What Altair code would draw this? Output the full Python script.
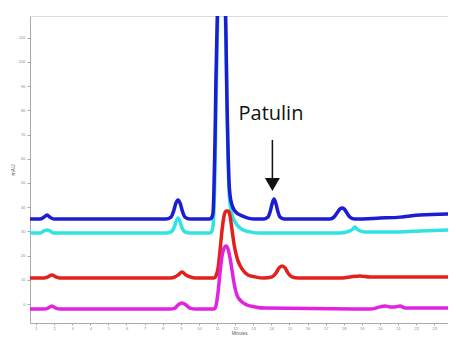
import altair as alt
import pandas as pd

# Retention time (minutes) and detector signal (mAU)
blue_t = [0.67, 1.22, 1.44, 1.61, 1.77, 1.99, 4.54, 8.18, 8.46, 8.62, 8.73, 8.85, 8.96, 9.07,
          9.23, 9.51, 10.61, 10.72, 10.78, 10.83, 10.89, 10.94, 11.00, 11.06, 11.25, 11.44,
          11.50, 11.55, 11.61, 11.66, 11.72, 11.83, 11.99, 12.16, 12.38, 12.71, 13.10, 13.60,
          13.82, 13.93, 14.04, 14.15, 14.26, 14.37, 14.48, 14.70, 17.24, 17.46, 17.63, 17.80,
          17.91, 18.02, 18.18, 18.34, 18.62, 20.01, 21.11, 21.66, 22.22, 23.76]
blue_v = [35.1, 35.1, 35.9, 36.8, 35.9, 35.1, 35.1, 35.1, 35.9, 38.8, 41.7, 43.0, 41.7, 38.8,
          35.9, 35.1, 35.1, 35.9, 37.6, 47.1, 67.8, 92.6, 113.2, 133.9, 208.3, 133.9,
          109.1, 84.3, 63.6, 51.2, 45.0, 40.9, 38.4, 37.2, 36.4, 35.5, 35.1, 35.1,
          35.9, 38.0, 41.3, 43.4, 41.3, 38.0, 35.9, 35.1, 35.1, 35.9, 37.6, 39.3,
          39.7, 39.3, 37.6, 35.9, 35.1, 35.5, 35.9, 36.4, 36.8, 37.2]

cyan_t = [0.67, 1.22, 1.44, 1.61, 1.77, 1.99, 8.18, 8.46, 8.62, 8.73, 8.85, 8.96, 9.07, 9.23,
          9.51, 10.61, 10.72, 10.78, 10.83, 10.89, 10.94, 11.00, 11.06, 11.25, 11.44, 11.50,
          11.55, 11.61, 11.66, 11.77, 11.94, 12.16, 12.44, 12.82, 13.38, 17.80, 18.34, 18.51,
          18.62, 18.73, 18.90, 19.18, 21.11, 22.22, 23.76]
cyan_v = [29.3, 29.3, 30.2, 30.6, 30.2, 29.3, 29.3, 29.8, 31.4, 33.9, 35.5, 33.9, 31.4, 29.8,
          29.3, 29.3, 30.2, 32.2, 38.8, 55.4, 80.2, 105.0, 125.6, 208.3, 125.6, 105.0,
          80.2, 59.5, 47.1, 38.8, 34.7, 32.2, 30.6, 29.8, 29.3, 29.3, 30.2, 31.0,
          31.8, 31.0, 30.2, 29.8, 29.8, 30.2, 30.6]

red_t = [0.67, 1.44, 1.66, 1.88, 2.10, 2.33, 8.40, 8.68, 8.85, 9.07, 9.29, 9.51, 9.84, 10.83,
         10.94, 11.06, 11.17, 11.28, 11.39, 11.50, 11.61, 11.72, 11.83, 11.94, 12.05, 12.16,
         12.38, 12.71, 13.10, 13.60, 14.04, 14.26, 14.43, 14.59, 14.76, 14.92, 15.14, 15.48,
         17.80, 18.35, 18.90, 19.45, 20.01, 23.76]
red_v = [10.7, 10.7, 11.2, 12.0, 11.2, 10.7, 10.7, 11.2, 12.0, 13.2, 12.0, 11.2, 10.7, 10.7,
         11.6, 14.9, 22.3, 30.6, 36.4, 38.4, 38.4, 36.4, 30.6, 24.8, 20.7, 17.8,
         14.5, 12.0, 11.2, 10.7, 11.2, 12.8, 14.9, 15.7, 14.9, 12.8, 11.2, 10.7,
         10.7, 11.2, 11.6, 11.2, 11.2, 11.2]

magenta_t = [0.67, 1.44, 1.66, 1.88, 2.10, 2.33, 8.40, 8.68, 8.85, 9.07, 9.29, 9.51, 9.84,
             10.83, 10.94, 11.06, 11.17, 11.28, 11.39, 11.50, 11.61, 11.72, 11.83, 11.94,
             12.10, 12.33, 12.66, 13.10, 13.65, 19.45, 20.01, 20.28, 20.56, 20.83, 21.11,
             21.39, 23.76]
magenta_v = [-2.1, -2.1, -1.7, -0.8, -1.7, -2.1, -2.1, -1.7, -0.4, 0.4, -0.4, -1.7, -2.1,
             -2.1, -0.8, 5.0, 13.2, 19.8, 23.1, 24.0, 22.7, 19.0, 14.0, 8.7, 3.7,
             1.2, -0.4, -1.2, -1.7, -2.1, -1.2, -0.8, -1.2, -1.2, -0.8, -1.7, -1.7]

series_names = ["cyan", "blue", "red", "magenta"]
series_colors = ["#2fe3e3", "#1c1cd2", "#e3201c", "#e023e0"]

x_ticks = list(range(1, 24))
y_ticks = list(range(0, 111, 10))

label_text = ["Patulin"]
label_t = [13.98]
label_v = [76.0]
arrow_t = [14.06]
arrow_top = [67.8]
arrow_bottom = [51.2]
arrow_head = [49.4]

x_scale = alt.Scale(domain=[0.67, 23.76], nice=False, zero=False)
y_scale = alt.Scale(domain=[-7.85, 119.0], nice=False, zero=False)

traces = {
    "blue": (blue_t, blue_v),
    "cyan": (cyan_t, cyan_v),
    "red": (red_t, red_v),
    "magenta": (magenta_t, magenta_v),
}

x_axis = alt.Axis(values=x_ticks, title="Minutes", labelFontSize=4, labelColor="#888",
                  titleFontSize=4.5, titleFontWeight="normal", titleColor="#555",
                  titlePadding=0, labelPadding=1, tickSize=2, tickColor="#aaa",
                  domainColor="#aaa", grid=False)
y_axis = alt.Axis(values=y_ticks, title="mAU", labelFontSize=4, labelColor="#888",
                  titleFontSize=5, titleFontWeight="normal", titleColor="#555",
                  titlePadding=3, labelPadding=2, tickSize=3, tickColor="#aaa",
                  domainColor="#aaa", grid=False)


def xenc(field):
    return alt.X(field, type="quantitative", scale=x_scale, axis=x_axis)


def yenc(field):
    return alt.Y(field, type="quantitative", scale=y_scale, axis=y_axis)


layers = []
for i, name in enumerate(series_names):
    t, v = traces[name]
    df = pd.DataFrame({"t": t, "v": v})
    layers.append(
        alt.Chart(df).mark_line(color=series_colors[i], strokeWidth=3.5,
                                interpolate="monotone", clip=True).encode(
            x=xenc("t"), y=yenc("v"))
    )

arrow_df = pd.DataFrame({"t": arrow_t, "top": arrow_top, "bottom": arrow_bottom,
                         "head": arrow_head})
shaft = alt.Chart(arrow_df).mark_rule(color="#111", strokeWidth=1.5).encode(
    x=xenc("t"), y=yenc("top"), y2="bottom:Q")
head = alt.Chart(arrow_df).mark_point(shape="triangle-down", filled=True, color="#111",
                                      size=225, opacity=1).encode(
    x=xenc("t"), y=yenc("head"))

label_df = pd.DataFrame({"t": label_t, "v": label_v, "text": label_text})
label = alt.Chart(label_df).mark_text(font="Open Sans", fontSize=20, color="#111",
                                      align="center", baseline="alphabetic").encode(
    x=xenc("t"), y=yenc("v"), text="text:N")

chart = alt.layer(*layers, shaft, head, label).properties(
    width=418, height=307,
    autosize=alt.AutoSizeParams(type="none"),
    padding={"left": 22, "top": 8, "right": 0, "bottom": 12},
).configure_view(stroke="#aaa", strokeWidth=1).configure(background="white")

chart.save("out.html", embed_options={"renderer": "svg", "actions": False})
